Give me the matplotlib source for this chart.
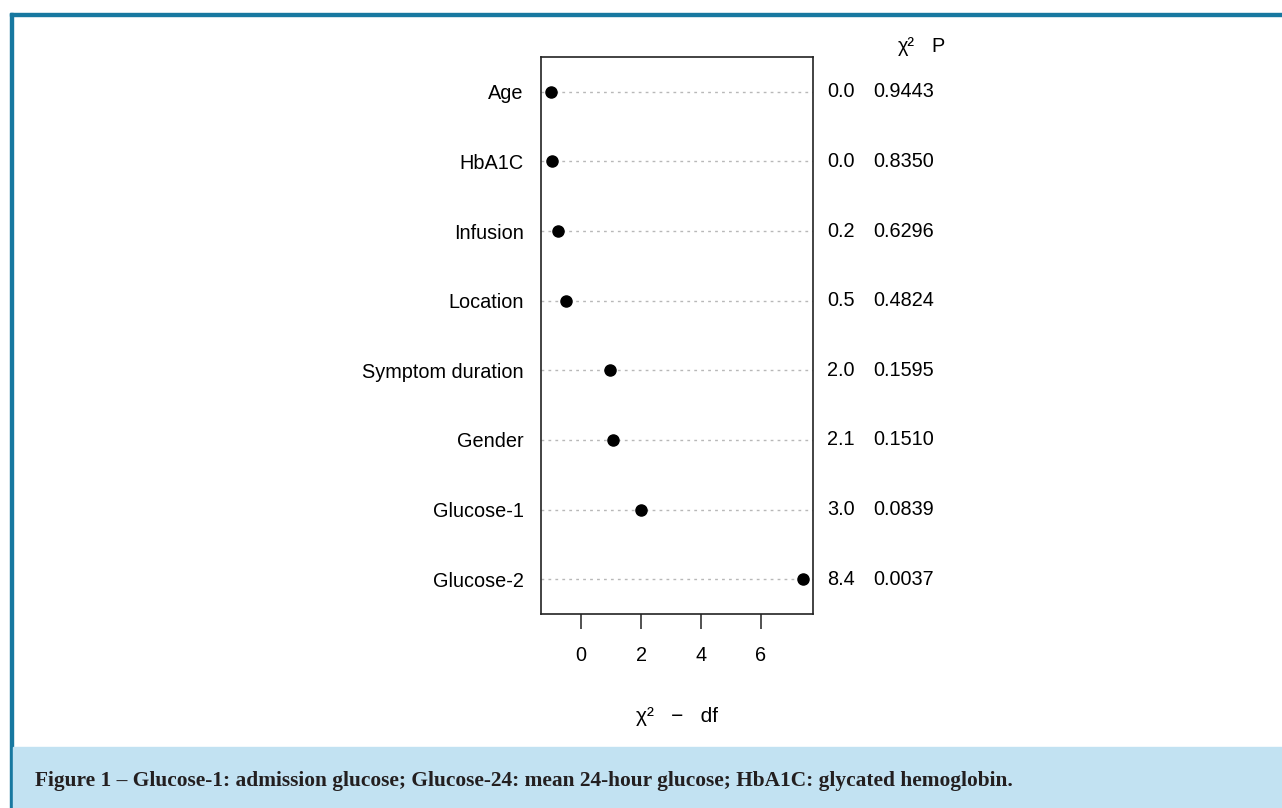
import matplotlib.pyplot as plt
from matplotlib.patches import Rectangle
from matplotlib.transforms import blended_transform_factory

# Data (chi-square minus df, df = 1 each)
labels = ["Age", "HbA1C", "Infusion", "Location", "Symptom duration",
          "Gender", "Glucose-1", "Glucose-2"]
chi2 = [0.005, 0.043, 0.233, 0.494, 1.981, 2.063, 2.987, 8.41]
pvals = ["0.9443", "0.8350", "0.6296", "0.4824", "0.1595", "0.1510", "0.0839", "0.0037"]
df = [1, 1, 1, 1, 1, 1, 1, 1]
xticks = [0, 2, 4, 6]

caption = ("Figure 1 \u2013 Glucose-1: admission glucose; Glucose-24: mean 24-hour glucose; "
           "HbA1C: glycated hemoglobin.")

W, H = 1282, 808
plt.rcParams['font.family'] = ['Liberation Sans', 'DejaVu Sans']
fig = plt.figure(figsize=(W / 100, H / 100), dpi=100)

def fx(px):
    return px / W

def fy(py):
    return 1 - py / H

# frame decoration: blue top/left border and caption box
border = '#1778a0'
fig.patches.append(Rectangle((fx(10), fy(16)), 1, 3 / H, transform=fig.transFigure,
                             color=border, zorder=0))
fig.patches.append(Rectangle((fx(10), 0), 3 / W, fy(13), transform=fig.transFigure,
                             color=border, zorder=0))
fig.patches.append(Rectangle((fx(13), 0), 1, fy(747), transform=fig.transFigure,
                             color='#c2e2f2', zorder=0))
fig.text(fx(35), fy(781), caption, family='Liberation Serif', weight='bold',
         fontsize=15.4, color='#231f20', va='center', ha='left')

# main dot chart
ax = fig.add_axes([fx(541), fy(614), fx(813) - fx(541), fy(57) - fy(614)])
n = len(labels)
ypos = list(range(n, 0, -1))
vals = [c - d for c, d in zip(chi2, df)]

for y in ypos:
    ax.axhline(y, color='#b8b8b8', lw=1, ls=(0, (2, 3)), zorder=1)
ax.plot(vals, ypos, 'o', color='black', ms=8, zorder=3)

ax.set_xlim(-1.336, 7.736)
ax.set_ylim(0.5, n + 0.5)
ax.set_xticks(xticks)
ax.set_xticklabels([str(t) for t in xticks])
ax.tick_params(axis='x', length=11, width=1.1, pad=12, labelsize=14.3, color='#222222')
ax.set_yticks(ypos)
ax.set_yticklabels(labels)
ax.tick_params(axis='y', length=0, pad=12.4, labelsize=14.3)
for s in ax.spines.values():
    s.set_linewidth(1.2)
    s.set_color('#222222')

# right-hand statistics columns
trans = blended_transform_factory(fig.transFigure, ax.transData)
for y, c, p in zip(ypos, chi2, pvals):
    ax.text(fx(855), y, f"{c:.1f}", transform=trans, ha='right', va='center',
            fontsize=14.3, clip_on=False)
    ax.text(fx(873), y, p, transform=trans, ha='left', va='center',
            fontsize=14.3, clip_on=False)
fig.text(fx(906), fy(47), "\u03c7\u00b2", ha='center', va='center', fontsize=14.3)
fig.text(fx(938), fy(47), "P", ha='center', va='center', fontsize=14.3)

fig.text(fx(677), fy(716), "\u03c7\u00b2   \u2212   df", ha='center', va='center',
         fontsize=15)

fig.savefig('out.png', dpi=100)
